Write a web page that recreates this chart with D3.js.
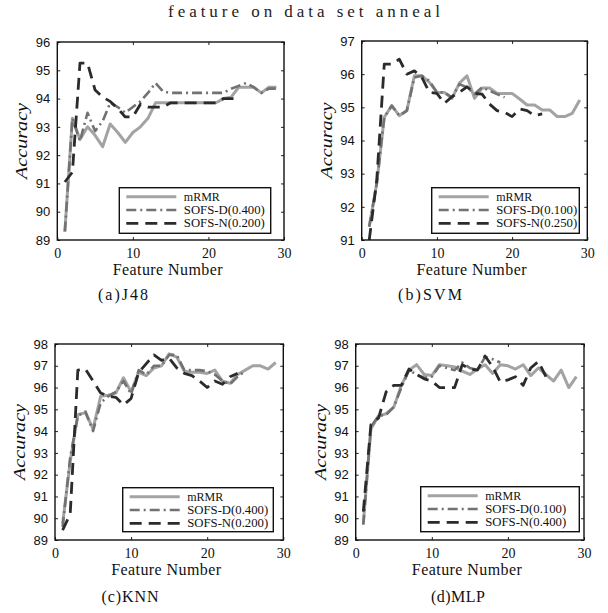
<!DOCTYPE html>
<html>
<head>
<meta charset="utf-8">
<script src="https://cdn.jsdelivr.net/npm/d3@7"></script>
<style>
  body { margin: 0; background: #fff; }
</style>
</head>
<body>
<div id="chart"></div>
<script>
// accuracy per number of selected features (x = 1, 2, 3 ...)
const xTicks = [0, 10, 20, 30];

const aMrmr = [89.3, 93.3, 92.55, 93.0, 92.7, 92.3, 93.1, 92.8, 92.45, 92.8, 93.0, 93.3, 93.85, 93.85, 93.85,
  93.85, 93.85, 93.85, 93.85, 93.85, 93.85, 94.0, 94.05, 94.4, 94.4, 94.4, 94.2, 94.4, 94.4];
const aSofsD = [89.3, 93.3, 92.5, 93.5, 92.85, 93.2, 93.85, 93.7, 93.5, 93.7, 93.9, 94.2, 94.55, 94.25, 94.2,
  94.2, 94.2, 94.2, 94.2, 94.2, 94.2, 94.2, 94.35, 94.45, 94.55, 94.4, 94.2, 94.35, 94.35];
const aSofsN = [91.05, 91.4, 95.25, 95.25, 94.3, 94.05, 93.9, 93.65, 93.35, 93.35, 93.8, 93.7, 93.7, 93.7,
  93.85, 93.85, 93.85, 93.85, 93.85, 93.85, 93.85, 94.0, 94.0, 94.0];

const bMrmr = [91.4, 92.7, 94.7, 95.05, 94.75, 94.9, 95.95, 95.95, 95.75, 95.45, 95.45, 95.27, 95.73, 95.95,
  95.27, 95.58, 95.58, 95.42, 95.42, 95.42, 95.25, 95.07, 95.07, 94.92, 94.92, 94.72, 94.72, 94.82, 95.22];
const bSofsD = [91.4, 92.7, 94.7, 95.05, 94.75, 94.9, 95.9, 95.95, 95.8, 95.45, 95.45, 95.3, 95.7, 95.6,
  95.4, 95.6, 95.5, 95.4, 95.3];
const bSofsN = [91.0, 92.8, 96.3, 96.3, 96.45, 96.0, 96.1, 95.9, 95.45, 95.42, 95.12, 95.32, 95.45, 95.62,
  95.42, 95.4, 95.1, 94.9, 94.85, 94.72, 94.95, 94.9, 94.75, 94.8];

const cMrmr = [89.75, 92.6, 94.75, 94.85, 94.1, 95.6, 95.65, 95.75, 96.45, 95.8, 96.7, 96.55, 96.9, 97.0,
  97.55, 97.4, 96.75, 96.7, 96.7, 96.65, 96.8, 96.3, 96.2, 96.6, 96.8, 97.0, 97.0, 96.85, 97.15];
const cSofsD = [89.6, 92.8, 94.7, 94.9, 94.0, 95.3, 95.6, 95.8, 96.3, 95.7, 96.8, 96.6, 97.0, 97.0, 97.5,
  97.5, 96.8, 96.8, 96.8, 96.75, 96.6, 96.3, 96.15, 96.5, 96.75];
const cSofsN = [89.45, 90.2, 96.8, 96.85, 96.3, 95.75, 95.6, 95.55, 95.2, 95.5, 96.7, 97.1, 97.5, 97.25,
  97.35, 96.9, 96.65, 96.55, 96.3, 96.0, 96.3, 96.15, 96.5, 96.65];

const dMrmr = [89.75, 94.1, 94.7, 94.8, 95.1, 96.1, 96.8, 97.05, 96.6, 96.55, 97.05, 97.0, 96.95, 96.75,
  96.6, 96.85, 97.05, 96.65, 97.05, 97.0, 96.85, 97.05, 96.55, 96.9, 96.6, 96.3, 96.8, 96.0, 96.5];
const dSofsD = [89.7, 94.2, 94.7, 94.75, 95.1, 96.0, 96.8, 96.6, 96.45, 96.5, 97.0, 96.9, 96.8, 97.15,
  96.9, 96.8, 97.4, 97.3, 97.15];
const dSofsN = [90.3, 94.3, 94.6, 95.8, 96.1, 96.1, 96.85, 96.6, 96.4, 96.3, 96.0, 96.0, 96.0, 97.05,
  96.85, 96.8, 97.45, 96.95, 96.25, 96.35, 96.5, 96.1, 96.9, 97.2, 96.5];

const namesA = ["mRMR", "SOFS-D(0.400)", "SOFS-N(0.200)"];
const namesB = ["mRMR", "SOFS-D(0.100)", "SOFS-N(0.250)"];
const namesC = ["mRMR", "SOFS-D(0.400)", "SOFS-N(0.200)"];
const namesD = ["mRMR", "SOFS-D(0.100)", "SOFS-N(0.400)"];

const captions = ["(a)J48", "(b)SVM", "(c)KNN", "(d)MLP"];

// line look for mRMR, SOFS-D, SOFS-N
const styles = [
  {color: "#a3a3a3", width: 3, dash: null},
  {color: "#727272", width: 2.6, dash: "10,4,2,4"},
  {color: "#2b2b2b", width: 2.8, dash: "12,7"}
];

const serif = "'Liberation Serif', 'Times New Roman', serif";
const width = 608, height = 613;

const svg = d3.select("#chart").append("svg")
  .attr("width", width)
  .attr("height", height)
  .attr("viewBox", [0, 0, width, height]);

svg.append("text")  // overall title
  .attr("x", 304).attr("y", 17)
  .attr("text-anchor", "middle")
  .style("font-family", serif)
  .attr("font-size", 17)
  .attr("fill", "#222")
  .attr("textLength", 272).attr("lengthAdjust", "spacing")
  .text("feature on data set anneal");

const panels = [
  {frame: {l: 57.3, r: 284, t: 42, b: 240}, yDom: [89, 96], series: [aMrmr, aSofsD, aSofsN], names: namesA,
   legend: {x: 119.3, y: 187.7, w: 151.4, h: 45.6}, cap: {x: 123, y: 300, len: 50}},
  {frame: {l: 361.7, r: 587.3, t: 41, b: 240}, yDom: [91, 97], series: [bMrmr, bSofsD, bSofsN], names: namesB,
   legend: {x: 431.7, y: 187.7, w: 147.6, h: 45.6}, cap: {x: 430, y: 300, len: 64}},
  {frame: {l: 55, r: 283.3, t: 344, b: 540}, yDom: [89, 98], series: [cMrmr, cSofsD, cSofsN], names: namesC,
   legend: {x: 122.7, y: 487.7, w: 150.6, h: 44}, cap: {x: 130, y: 602, len: 57}},
  {frame: {l: 355.7, r: 584, t: 344, b: 540}, yDom: [89, 98], series: [dMrmr, dSofsD, dSofsN], names: namesD,
   legend: {x: 420.7, y: 486.7, w: 158.6, h: 45}, cap: {x: 458, y: 602, len: 54}}
];

panels.forEach((p, k) => {
  const f = p.frame;
  const x = d3.scaleLinear().domain([0, 30]).range([f.l, f.r]);
  const y = d3.scaleLinear().domain(p.yDom).range([f.b, f.t]);
  const yTicks = d3.range(p.yDom[0], p.yDom[1] + 1);

  const g = svg.append("g");

  // inward ticks on all four sides
  g.append("g")
    .attr("transform", `translate(0,${f.b})`)
    .call(d3.axisBottom(x).tickValues(xTicks).tickSizeInner(-3).tickSizeOuter(0).tickPadding(8))
    .call(a => a.select(".domain").remove())
    .call(a => a.selectAll("text").style("font-family", serif).attr("font-size", 14).attr("fill", "#111"));

  g.append("g")
    .attr("transform", `translate(0,${f.t})`)
    .call(d3.axisTop(x).tickValues(xTicks).tickSizeInner(-3).tickSizeOuter(0).tickFormat(""))
    .call(a => a.select(".domain").remove());

  g.append("g")
    .attr("transform", `translate(${f.l},0)`)
    .call(d3.axisLeft(y).tickValues(yTicks).tickSizeInner(-3).tickSizeOuter(0).tickPadding(7).tickFormat(d3.format("d")))
    .call(a => a.select(".domain").remove())
    .call(a => a.selectAll("text").style("font-family", "'Liberation Sans', Arial, sans-serif").attr("font-size", 13).attr("fill", "#111"));

  g.append("g")
    .attr("transform", `translate(${f.r},0)`)
    .call(d3.axisRight(y).tickValues(yTicks).tickSizeInner(-3).tickSizeOuter(0).tickFormat(""))
    .call(a => a.select(".domain").remove());

  g.selectAll(".tick line").attr("stroke", "#222");

  const line = d3.line()
    .x((d, i) => x(i + 1))
    .y(d => y(d));

  p.series.forEach((s, j) => {
    g.append("path")
      .datum(s)
      .attr("fill", "none")
      .attr("stroke", styles[j].color)
      .attr("stroke-width", styles[j].width)
      .attr("stroke-dasharray", styles[j].dash)
      .attr("stroke-linejoin", "round")
      .attr("d", line);
  });

  g.append("rect")  // plot frame
    .attr("x", f.l).attr("y", f.t)
    .attr("width", f.r - f.l).attr("height", f.b - f.t)
    .attr("fill", "none").attr("stroke", "#111").attr("stroke-width", 1.4);

  // legend box
  const L = p.legend;
  const lg = g.append("g").attr("transform", `translate(${L.x},${L.y})`);
  lg.append("rect")
    .attr("width", L.w).attr("height", L.h)
    .attr("fill", "#fff").attr("stroke", "#111").attr("stroke-width", 1.4);
  p.names.forEach((n, j) => {
    const yy = 9 + j * 13.3;
    lg.append("line")
      .attr("x1", 7).attr("x2", 57).attr("y1", yy).attr("y2", yy)
      .attr("stroke", styles[j].color)
      .attr("stroke-width", styles[j].width)
      .attr("stroke-dasharray", styles[j].dash);
    lg.append("text")
      .attr("x", 64.5).attr("y", yy).attr("dy", "0.35em")
      .style("font-family", serif)
      .attr("font-size", 11.5)
      .attr("fill", "#111")
      .attr("textLength", j === 0 ? 36 : 81).attr("lengthAdjust", "spacingAndGlyphs")
      .text(n);
  });

  // axis titles
  g.append("text")
    .attr("transform", `translate(${f.l - 30},${(f.t + f.b) / 2}) rotate(-90)`)
    .attr("text-anchor", "middle")
    .style("font-family", serif)
    .attr("font-style", "italic")
    .attr("font-size", 17)
    .attr("fill", "#111")
    .attr("textLength", 76).attr("lengthAdjust", "spacingAndGlyphs")
    .text("Accuracy");

  g.append("text")
    .attr("x", (f.l + f.r) / 2 - 3).attr("y", f.b + 34.5)
    .attr("text-anchor", "middle")
    .style("font-family", serif)
    .attr("font-size", 16)
    .attr("fill", "#111")
    .attr("textLength", 110).attr("lengthAdjust", "spacing")
    .text("Feature Number");

  g.append("text")
    .attr("x", p.cap.x).attr("y", p.cap.y)
    .attr("text-anchor", "middle")
    .style("font-family", serif)
    .attr("font-size", 16)
    .attr("fill", "#111")
    .attr("textLength", p.cap.len).attr("lengthAdjust", "spacing")
    .text(captions[k]);
});
</script>
</body>
</html>
